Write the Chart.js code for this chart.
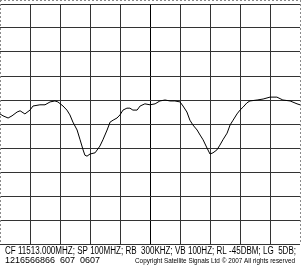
<!DOCTYPE html>
<html lang="en">
<head>
    <meta charset="UTF-8">
    <title>Spectrum</title>
    <script src="https://cdn.jsdelivr.net/npm/chart.js@4"></script>
    <style>
        body { margin: 0; background: #fff; }
        canvas { display: block; }
    </style>
</head>
<body>
<canvas id="myChart" width="301" height="268"></canvas>
<script>

    // frequences (MHz) et niveaux (dBm)
    let frequences = [
        11463, 11464, 11465.7, 11467, 11468.7, 11469.7, 11471.3, 11473, 11474, 11476.3,
        11478, 11479.7, 11481.3, 11482.3, 11484, 11485.3, 11486.3, 11487.3, 11488.7, 11489.7,
        11490.7, 11491.3, 11492, 11493, 11494.7, 11496.3, 11497.3, 11498.7, 11499.7, 11500.7,
        11502, 11503, 11504, 11505.3, 11506.3, 11507.3, 11508.7, 11509.7, 11511.3, 11513,
        11514.7, 11516.3, 11518, 11519.7, 11521.3, 11523, 11524, 11525.3, 11526.3, 11527.3,
        11528.7, 11529.7, 11530.7, 11532, 11533, 11534, 11535.3, 11536.3, 11537.3, 11538.7,
        11539.7, 11540.7, 11542, 11543, 11544, 11545.3, 11546.3, 11548.7, 11550.7, 11553,
        11555.3, 11557.3, 11559.7, 11562, 11563
    ];
    let niveaux = [
        -67.9, -68.3, -68.75, -68.3, -67.5, -67.25, -67.9, -67.1, -66.25, -66.0,
        -66.0, -65.4, -65.2, -65.4, -66.25, -67.1, -68.1, -69.6, -71.25, -73.3,
        -75.4, -76.5, -76.7, -76.25, -76.0, -74.6, -73.3, -71.25, -69.6, -69.2,
        -68.75, -68.1, -67.1, -66.7, -66.7, -67.1, -67.1, -66.25, -65.8, -66.0,
        -65.8, -65.2, -65.0, -65.2, -65.2, -65.4, -66.25, -67.5, -69.2, -70.2,
        -71.25, -72.3, -73.3, -75.0, -76.25, -76.0, -75.4, -74.4, -73.3, -71.9,
        -70.2, -69.2, -67.9, -67.1, -66.5, -65.6, -65.2, -65.0, -64.8, -64.4,
        -64.4, -65.0, -65.2, -65.8, -66.0
    ];

    let freqMin = 11463, freqMax = 11563, freqCentre = 11513;
    let refNiveau = -45, basNiveau = -95;

    let ligneParametres = 'CF 11513.000MHZ; SP 100MHZ; RB  300KHZ; VB 100HZ; RL -45DBM; LG  5DB;';
    let ligneNumeros = ['1216566866', '607', '0607'];
    let ligneCopyright = 'Copyright Satellite Signals Ltd \u00A9 2007 All rights reserved';

    let points = frequences.map((f, i) => ({ x: f, y: niveaux[i] }));

    let cadreEtTextes = {
        id: 'cadreEtTextes',
        afterDraw: (chart) => {
            let ctx = chart.ctx;
            let area = chart.chartArea;
            ctx.save();
            // bords en pointillés
            ctx.strokeStyle = '#8a8a8a';
            ctx.lineWidth = 1;
            ctx.setLineDash([2, 2]);
            ctx.beginPath();
            ctx.moveTo(0, 0.5); ctx.lineTo(301, 0.5);
            ctx.moveTo(0.5, 0); ctx.lineTo(0.5, area.bottom);
            ctx.moveTo(300.5, 0); ctx.lineTo(300.5, area.bottom);
            ctx.stroke();
            ctx.setLineDash([]);

            // textes sous la grille
            ctx.fillStyle = '#000';
            ctx.textBaseline = 'alphabetic';
            ctx.textAlign = 'left';
            ctx.font = '10px "Liberation Sans", Arial, sans-serif';
            ctx.fillText(ligneParametres, 5, 254, 291);
            ctx.font = '9px "Liberation Sans", Arial, sans-serif';
            ctx.fillText(ligneNumeros[0], 5, 263, 52);
            ctx.fillText(ligneNumeros[1], 60, 263, 16);
            ctx.fillText(ligneNumeros[2], 80, 263, 21);
            ctx.font = '7px "Liberation Sans", Arial, sans-serif';
            ctx.textAlign = 'right';
            ctx.fillText(ligneCopyright, 295, 263, 160);
            ctx.restore();
        }
    };

    let ctx = document.getElementById('myChart').getContext('2d');
    let chart = new Chart(ctx, {
        type: 'line',
        data: {
            datasets: [{
                data: points,
                borderColor: '#000',
                borderWidth: 1,
                pointRadius: 0,
                tension: 0,
                fill: false
            }]
        },
        options: {
            responsive: false,
            animation: false,
            layout: { padding: { left: 0, right: 1, top: 4, bottom: 24 } },
            plugins: {
                legend: { display: false },
                tooltip: { enabled: false }
            },
            scales: {
                x: {
                    type: 'linear',
                    min: freqMin,
                    max: freqMax,
                    ticks: { display: false, stepSize: 10 },
                    border: { display: false },
                    grid: {
                        drawTicks: false,
                        color: (c) => {
                            if (!c.tick) return '#333';
                            if (c.tick.value === freqMin || c.tick.value === freqMax) return 'rgba(0,0,0,0)';
                            return c.tick.value === freqCentre ? '#000' : '#333';
                        },
                        lineWidth: 1
                    }
                },
                y: {
                    min: basNiveau,
                    max: refNiveau,
                    ticks: { display: false, stepSize: 5 },
                    border: { display: false },
                    grid: { drawTicks: false, color: '#333', lineWidth: 1 }
                }
            }
        },
        plugins: [cadreEtTextes]
    });

</script>
</body>
</html>
